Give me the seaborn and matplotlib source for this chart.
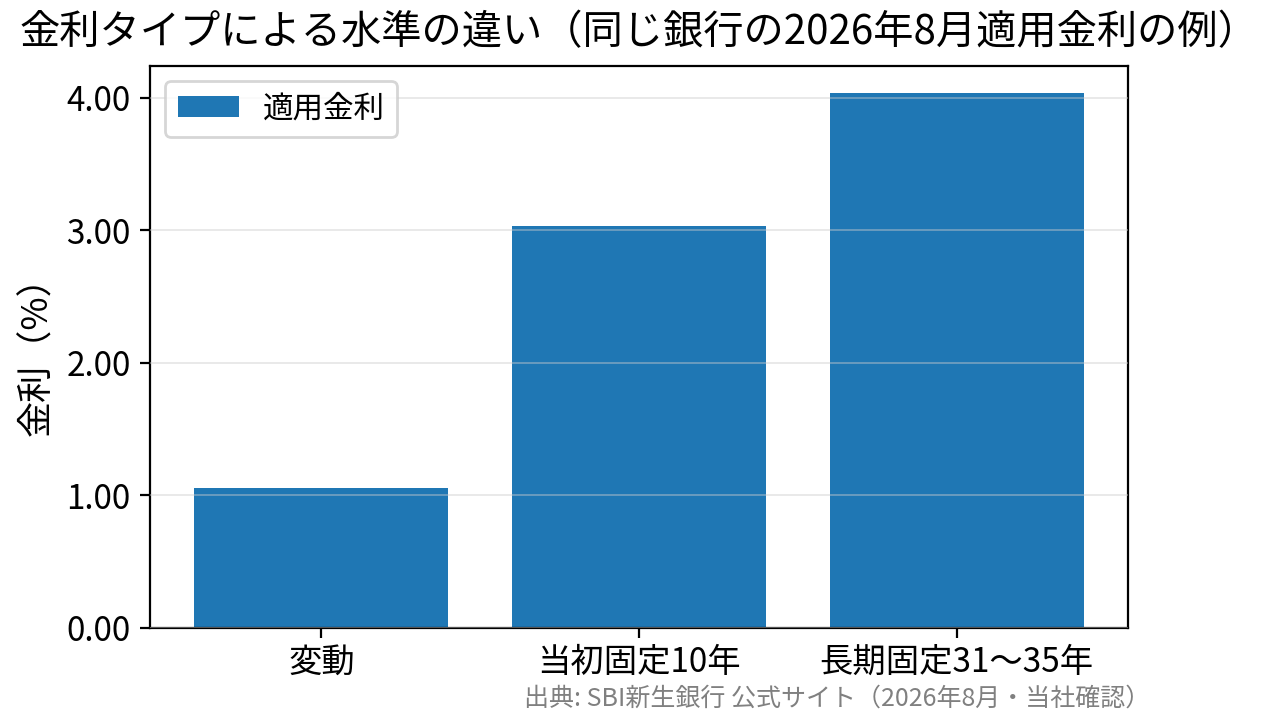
import matplotlib
matplotlib.use("Agg")
import matplotlib.pyplot as plt
import seaborn as sns
import pandas as pd
from matplotlib.ticker import FormatStrFormatter

# data
categories = ["変動", "当初固定10年", "長期固定31〜35年"]
rates = [1.059, 3.032, 4.038]
yticks = [0, 1, 2, 3, 4]

plt.rcParams['font.family'] = ['Noto Sans CJK JP', 'DejaVu Sans']

df = pd.DataFrame({"type": categories, "rate": rates})

fig = plt.figure(figsize=(6.39, 3.625), dpi=200)
ax = fig.add_axes([0.1174, 0.134, 0.7652, 0.775])

sns.barplot(data=df, x="type", y="rate", color="#1f77b4", saturation=1,
            width=0.8, label="適用金利", ax=ax)

ax.set_xlim(-0.54, 2.54)
ax.set_ylim(0, max(rates) * 1.05)
ax.set_yticks(yticks)
ax.yaxis.set_major_formatter(FormatStrFormatter('%.2f'))
ax.set_axisbelow(False)
ax.grid(axis='y', color='#cccccc', alpha=0.5, linewidth=0.6)

ax.set_title("金利タイプによる水準の違い（同じ銀行の2026年8月適用金利の例）", fontsize=14.5, pad=8)
ax.set_xlabel("")
ax.set_ylabel("金利（%）", fontsize=13)
ax.tick_params(labelsize=12)
ax.tick_params(axis='x', pad=2.5)
ax.legend(loc='upper left', fontsize=11)

# source note under the axes, right aligned
fig.text(0.9, 0.036, "出典: SBI新生銀行 公式サイト（2026年8月・当社確認）",
         ha='right', va='center', fontsize=9, color='gray')

fig.savefig("out.png", dpi=200)
